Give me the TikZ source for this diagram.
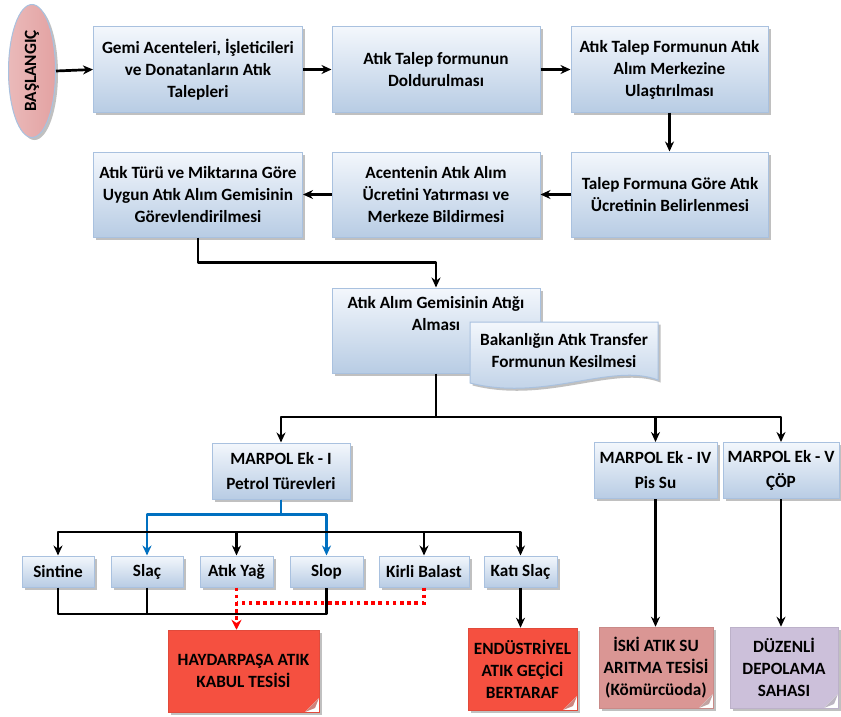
\documentclass[tikz,border=0pt]{standalone}
\usepackage{fontspec}
\setmainfont{Carlito}
\usetikzlibrary{arrows.meta,shadows,calc,shapes.geometric}
\definecolor{boxtop}{HTML}{F3F7FC}
\definecolor{boxbot}{HTML}{B8CCE4}
\definecolor{boxline}{HTML}{A9C1DF}
\definecolor{redbox}{HTML}{F55040}
\definecolor{pinkbox}{HTML}{DA9694}
\definecolor{lilacbox}{HTML}{CCC0DA}
\definecolor{startfill}{HTML}{E3A2A2}
\definecolor{flowblue}{HTML}{0070C0}
\definecolor{dotred}{HTML}{FF0000}
\tikzset{
  txt/.style={font=\fontsize{17.2}{22}\selectfont\bfseries, align=center, text=black, inner sep=0pt},
  shad/.style={drop shadow={shadow xshift=2.5pt, shadow yshift=-2.5pt, opacity=0.35, fill=black!70}},
  bluebox/.style={txt, draw=boxline, line width=1pt, top color=boxtop, bottom color=boxbot, shad},
  notebox/.style={txt, fill=#1, draw=#1!92!black, line width=0.5pt, shad,
    path picture={
      \fill[white] (path picture bounding box.south east) -- ([xshift=-14pt]path picture bounding box.south east) -- ([yshift=14pt]path picture bounding box.south east) -- cycle;
      \fill[#1!55!gray!80!white] ([xshift=-14pt]path picture bounding box.south east) -- ([yshift=14pt]path picture bounding box.south east) -- ([xshift=-4pt,yshift=4pt]path picture bounding box.south east) -- cycle;
    }},
  startnode/.style={ellipse, draw=boxline, line width=1pt, left color=startfill!75!white, right color=startfill, shad, inner sep=0pt, font=\fontsize{17.2}{20}\selectfont\bfseries},
  ln/.style={line width=2.7pt, black, line join=round},
  arr/.style={ln, -{Stealth[length=10pt,width=9pt]}},
  bluearr/.style={line width=2.7pt, flowblue, line join=round, -{Stealth[length=10pt,width=9pt]}},
  reddot/.style={line width=3.6pt, dotred, dash pattern=on 3.6pt off 3.6pt},
  reddotarr/.style={reddot, -{Stealth[length=10pt,width=10pt]}},
}
\begin{document}
\begin{tikzpicture}[x=1pt,y=-1pt]
\useasboundingbox[fill=white] (0,0) rectangle (841,717);

% start
\node[startnode, minimum width=47, minimum height=133] (start) at (32,71) {\rotatebox{90}{BAŞLANGIÇ}};

% row 1
\node[bluebox, minimum width=209, minimum height=85] (b1) at (198,69.5) {Gemi Acenteleri, İşleticileri\\ve Donatanların  Atık\\Talepleri};
\node[bluebox, minimum width=208, minimum height=85] (b2) at (436,69.5) {Atık Talep formunun\\Doldurulması};
\node[bluebox, minimum width=197, minimum height=85] (b3) at (669.5,69.5) {Atık Talep Formunun Atık\\Alım Merkezine\\Ulaştırılması};

% row 2
\node[bluebox, minimum width=209, minimum height=85] (b4) at (198,194.5) {Atık Türü ve Miktarına  Göre\\Uygun Atık Alım Gemisinin\\Görevlendirilmesi};
\node[bluebox, minimum width=208, minimum height=85] (b5) at (436,194.5) {Acentenin Atık Alım\\Ücretini Yatırması ve\\Merkeze Bildirmesi};
\node[bluebox, minimum width=197, minimum height=85] (b6) at (670,194.5) {Talep Formuna Göre Atık\\Ücretinin Belirlenmesi};

% row 3
\node[bluebox, minimum width=208, minimum height=85] (b7) at (436,330.5) {};
\node[txt] (b7t) at (436,313.5) {Atık Alım Gemisinin Atığı\\Alması};
\path[draw=boxline, line width=1pt, top color=boxtop, bottom color=boxbot, shad]
  (470,322) -- (658,322) -- (658,380) .. controls (612,362) and (545,402) .. (470,383) -- cycle;
\node[txt] (doc) at (564,350.5) {Bakanlığın  Atık Transfer\\Formunun Kesilmesi};

% MARPOL boxes
\node[bluebox, minimum width=138, minimum height=56] (ek1) at (281,471) {MARPOL Ek - I\\[3pt]Petrol Türevleri};
\node[bluebox, minimum width=123, minimum height=56] (ek4) at (655.5,470.5) {MARPOL Ek - IV\\[3pt]Pis Su};
\node[bluebox, minimum width=116, minimum height=56] (ek5) at (781,470.5) {MARPOL Ek - V\\[3pt]ÇÖP};

% small boxes
\node[bluebox, minimum width=72, minimum height=31] (sintine) at (58,571.5) {Sintine};
\node[bluebox, minimum width=72, minimum height=31] (slac) at (147,571.5) {Slaç};
\node[bluebox, minimum width=73, minimum height=31] (atikyag) at (236.5,571.5) {Atık Yağ};
\node[bluebox, minimum width=73, minimum height=31] (slop) at (326.5,571.5) {Slop};
\node[bluebox, minimum width=90, minimum height=31] (kirli) at (424,571.5) {Kirli Balast};
\node[bluebox, minimum width=73, minimum height=31] (katislac) at (520.5,571.5) {Katı Slaç};

% destination boxes
\node[notebox=redbox, minimum width=151, minimum height=82] (haydar) at (243.5,671) {HAYDARPAŞA ATIK\\KABUL TESİSİ};
\node[notebox=redbox, minimum width=109, minimum height=82] (endus) at (522.5,669) {ENDÜSTRİYEL\\ATIK GEÇİCİ\\BERTARAF};
\node[notebox=pinkbox, minimum width=114, minimum height=81] (iski) at (656,667.5) {İSKİ ATIK SU\\ARITMA TESİSİ\\(Kömürcüoda)};
\node[notebox=lilacbox, minimum width=108, minimum height=81] (duzenli) at (784,667.5) {DÜZENLİ\\DEPOLAMA\\SAHASI};

% coordinates
\coordinate (bus) at (0,417);
\coordinate (sbus) at (0,532);
\coordinate (bbus) at (0,614);
\coordinate (rbus) at (0,603);

% connectors row 1/2
\draw[arr] (start.east) -- (b1.west);
\draw[arr] (b1.east) -- (b2.west);
\draw[arr] (b2.east) -- (b3.west);
\draw[arr] (b3.south) -- (b3.south|-b6.north);
\draw[arr] (b6.west) -- (b5.east);
\draw[arr] (b5.west) -- (b4.west-|b4.east);
\draw[arr] (b4.south) -- ++(0,25) -| (b7.north);

% main bus
\draw[ln] (b7.south) -- (b7.south|-bus);
\draw[arr] (ek4.north|-bus) -- (ek4.north);
\draw[arr] (b7.south|-bus) -| (ek1.north);
\draw[arr] (b7.south|-bus) -| (ek5.north);

% blue connectors
\draw[bluearr] (ek1.south) -- ++(0,15) -| (slac.north);
\draw[bluearr] (ek1.south) -- ++(0,15) -| (slop.north);

% black small-box bus
\draw[arr] (atikyag.north|-sbus) -| (sintine.north);
\draw[arr] (atikyag.north|-sbus) -| (katislac.north);
\draw[arr] (atikyag.north|-sbus) -- (atikyag.north);
\draw[arr] (kirli.north|-sbus) -- (kirli.north);

% bottom black collector
\draw[ln] (sintine.south) |- (slop.south|-bbus) -- (slop.south);
\draw[ln] (slac.south) -- (slac.south|-bbus);

% red dotted
\draw[reddot] (kirli.south) |- (atikyag.south|-rbus);
\draw[reddotarr] (atikyag.south) -- (atikyag.south|-haydar.north);

% to destinations
\draw[arr] (katislac.south) -- (katislac.south|-endus.north);
\draw[arr] (ek4.south) -- (ek4.south|-iski.north);
\draw[arr] (ek5.south) -- (ek5.south|-duzenli.north);
\end{tikzpicture}
\end{document}
